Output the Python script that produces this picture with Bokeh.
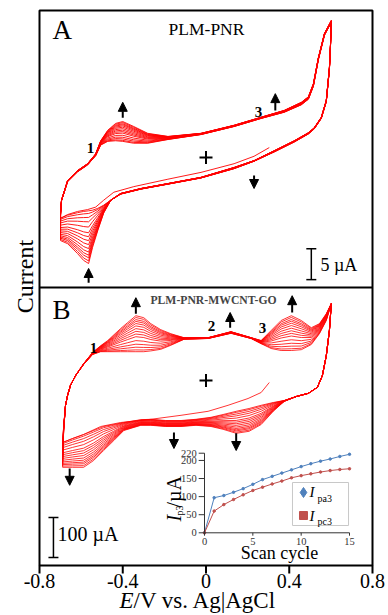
import math
from bokeh.plotting import figure
from bokeh.models import Range1d, Arrow, NormalHead
from bokeh.core.properties import value
from bokeh.embed import file_html
from bokeh.resources import INLINE

FONT = "Liberation Serif"

# ---------------- inset data: peak currents vs scan cycle ----------------
cycle = list(range(16))
ipa3 = [0, 97, 103, 112, 122, 134, 147, 156, 165, 174, 183, 191, 198, 204, 211, 217]
ipc3 = [0, 60, 78, 92, 105, 117, 126, 135, 143, 152, 158, 163, 168, 172, 175, 177]
inset_yticks = [0, 50, 100, 150, 200, 220]
inset_xticks = [0, 5, 10, 15]
x_ticks = [-0.8, -0.4, 0, 0.4, 0.8]
x_tick_labels = ["-0.8", "-0.4", "0", "0.4", "0.8"]

# ---------------- panel A (PLM-PNR), current in uA ----------------
A_E_up = [-0.699, -0.699, -0.694, -0.665, -0.617, -0.569, -0.530, -0.506, -0.472, -0.434,
          -0.400, -0.347, -0.280, -0.183, -0.024, 0.135, 0.265, 0.376, 0.458, 0.492,
          0.516, 0.540, 0.569, 0.602]
A_up_first = [-9.8, -8.6, -6.9, -3.9, -2.3, -1.2, 0.3, 2.0, 2.6, 2.7,
              2.6, 2.3, 2.3, 2.9, 3.7, 5.0, 6.3, 7.3, 8.5, 9.4,
              11.5, 15.8, 19.7, 21.8]
A_up_last = [-13.4, -9.4, -6.9, -3.7, -2.1, -1.0, 0.6, 2.7, 4.4, 5.5,
             5.8, 5.0, 3.9, 3.4, 3.9, 5.2, 6.5, 7.6, 8.9, 9.8,
             11.9, 16.1, 20.0, 22.1]
A_E_dn = [0.602, 0.598, 0.593, 0.578, 0.554, 0.520, 0.492, 0.424, 0.328, 0.231,
          0.135, -0.024, -0.183, -0.313, -0.410, -0.458, -0.492, -0.520, -0.545, -0.564,
          -0.588, -0.617, -0.665, -0.699]
A_dn_first = [21.8, 17.8, 14.2, 9.0, 6.3, 4.6, 3.8, 2.5, 0.9, -0.6,
              -1.8, -3.3, -4.3, -5.1, -5.9, -6.9, -7.7, -8.2, -8.5, -8.6,
              -8.7, -8.9, -9.3, -9.8]
A_dn_last = [22.1, 18.1, 14.5, 9.2, 6.5, 4.8, 4.0, 2.7, 1.1, -0.5,
             -1.6, -3.2, -4.2, -5.0, -5.8, -6.9, -9.0, -11.8, -14.5, -17.1,
             -16.6, -15.5, -13.9, -13.4]
A_E_start = [0.304, 0.231, 0.135, -0.024, -0.183, -0.347, -0.443, -0.492, -0.530, -0.569, -0.617, -0.665, -0.699]
A_I_start = [1.6, 0.2, -1.0, -2.4, -3.5, -4.7, -5.6, -6.9, -8.0, -8.4, -8.7, -9.2, -9.8]

# ---------------- panel B (PLM-PNR-MWCNT-GO), current in uA ----------------
B_E_up = [-0.689, -0.684, -0.675, -0.665, -0.651, -0.627, -0.588, -0.545, -0.506, -0.472,
          -0.410, -0.376, -0.337, -0.299, -0.265, -0.217, -0.169, -0.106, 0.010, 0.120,
          0.217, 0.265, 0.313, 0.361, 0.410, 0.458, 0.506, 0.545, 0.578, 0.602]
B_up_first = [-155, -115, -62, -37, -12, 12, 40, 65, 72, 72,
              72, 72, 72, 72, 74, 78, 88, 103, 105, 118,
              105, 92, 80, 75, 75, 77, 90, 117, 150, 192]
B_up_last = [-217, -125, -62, -37, -12, 12, 42, 70, 87, 100,
             130, 145, 162, 157, 142, 127, 117, 107, 107, 122,
             107, 100, 125, 150, 162, 150, 132, 142, 167, 192]
B_E_dn = [0.602, 0.593, 0.578, 0.559, 0.535, 0.492, 0.434, 0.376, 0.323, 0.265,
          0.207, 0.145, 0.082, 0.024, -0.048, -0.120, -0.193, -0.265, -0.313, -0.395,
          -0.443, -0.492, -0.540, -0.588, -0.641, -0.689]
B_dn_first = [192, 125, 62, 12, -17, -32, -40, -50, -55, -62,
              -70, -77, -85, -92, -97, -100, -100, -97, -98, -105,
              -110, -115, -125, -135, -145, -155]
B_dn_last = [192, 125, 62, 12, -17, -32, -40, -52, -77, -110,
             -127, -132, -122, -115, -112, -115, -115, -112, -112, -125,
             -150, -175, -200, -217, -217, -217]
B_E_start = [0.304, 0.265, 0.202, 0.106, 0.010, -0.120, -0.265, -0.410, -0.506, -0.588, -0.641, -0.689]
B_I_start = [-5, -30, -45, -62, -77, -87, -97, -105, -115, -135, -145, -155]

# arrows: (E, tail current, tip current)
A_arrows = [(-0.400, 6.4, 8.9), (0.333, 7.6, 10.3), (0.231, -2.9, -5.0), (-0.564, -20.2, -17.9)]
B_arrows = [(-0.337, 167, 207), (0.116, 132, 170), (0.414, 170, 212),
            (-0.154, -130, -170), (0.145, -132, -175), (-0.655, -220, -262)]

# ---------------- layout constants (page pixels) ----------------
W, H = 388, 615
FR_L, FR_R, FR_T, FR_B = 39, 372, 10, 565
SPLIT = 287
TICK_OUT = 8


def yrange(zero_px, px_per_unit):
    return Range1d((zero_px - H) / px_per_unit, zero_px / px_per_unit)


def xrange_(zero_px, px_per_unit):
    return Range1d(-zero_px / px_per_unit, (W - zero_px) / px_per_unit)


kx = (FR_R - FR_L) / (x_ticks[-1] - x_ticks[0])
p = figure(width=W, height=H, output_backend="svg", toolbar_location=None,
           x_range=Range1d(x_ticks[0] - FR_L / kx, x_ticks[-1] + (W - FR_R) / kx),
           y_range=Range1d(H, 0), x_axis_location=None, y_axis_location=None,
           min_border_left=0, min_border_right=0, min_border_top=0, min_border_bottom=0)
p.grid.visible = False
p.outline_line_color = None
p.background_fill_color = "white"
p.border_fill_color = "white"
p.extra_x_ranges = {"px": Range1d(0, W), "ix": xrange_(204, 9.667)}
p.extra_y_ranges = {"A": yrange(157, 6.2), "B": yrange(380, 0.4), "iy": yrange(532.3, 0.3618)}

# panel frames and the E axis ticks
p.quad(left=[FR_L], right=[FR_R], top=[FR_T], bottom=[FR_B], x_range_name="px",
       fill_color=None, line_color="black", line_width=2)
p.segment(x0=[FR_L], y0=[SPLIT], x1=[FR_R], y1=[SPLIT], x_range_name="px",
          line_color="black", line_width=2)
p.segment(x0=x_ticks, y0=[FR_B] * len(x_ticks), x1=x_ticks, y1=[FR_B + TICK_OUT] * len(x_ticks),
          line_color="black", line_width=2)
p.text(x=x_ticks, y=[580] * len(x_ticks), text=x_tick_labels, text_font=value(FONT),
       text_font_size="20px", text_align="center", text_baseline="middle", text_color="black")

# ---------------- CV cycles ----------------
weights = [(ipa3[c] - ipa3[1]) / (ipa3[15] - ipa3[1]) for c in range(1, 16)]


def build(E_up, up_first, up_last, E_dn, dn_first, dn_last):
    xs, ys = [], []
    for w in weights:
        up = [a + w * (b - a) for a, b in zip(up_first, up_last)]
        dn = [a + w * (b - a) for a, b in zip(dn_first, dn_last)]
        xs.append(list(E_up) + list(E_dn[1:]))
        ys.append(up + dn[1:])
    return xs, ys


axs, ays = build(A_E_up, A_up_first, A_up_last, A_E_dn, A_dn_first, A_dn_last)
p.multi_line(axs + [A_E_start], ays + [A_I_start], y_range_name="A",
             line_color="red", line_width=0.9, line_join="round")
bxs, bys = build(B_E_up, B_up_first, B_up_last, B_E_dn, B_dn_first, B_dn_last)
p.multi_line(bxs + [B_E_start], bys + [B_I_start], y_range_name="B",
             line_color="red", line_width=0.8, line_join="round")

# origin crosses
for rn in ("A", "B"):
    p.scatter(x=[0], y=[0], marker="cross", size=13, line_width=2, color="black", y_range_name=rn)

# arrows
for rn, arr in (("A", A_arrows), ("B", B_arrows)):
    for e, t0, t1 in arr:
        p.add_layout(Arrow(x_start=e, y_start=t0, x_end=e, y_end=t1, y_range_name=rn,
                           line_width=2, line_color="black",
                           end=NormalHead(size=9, fill_color="black", line_color="black")))

# scale bars
A_bar = (0.506, -14.7, -19.7)
B_bar = (-0.733, -342.5, -442.5)
for rn, (e, b0, b1) in (("A", A_bar), ("B", B_bar)):
    p.segment(x0=[e, e - 0.024, e - 0.024], y0=[b0, b0, b1], x1=[e, e + 0.024, e + 0.024], y1=[b1, b0, b1],
              line_color="black", line_width=1.5, y_range_name=rn)


def txt(x, y, s, size, align="left", style="normal", color="black", xr="px", yr="default",
        angle=0.0, baseline="middle"):
    p.text(x=[x], y=[y], text=[s], x_range_name=xr, y_range_name=yr, angle=angle,
           text_font=value(FONT), text_font_size=size, text_font_style=style,
           text_align=align, text_baseline=baseline, text_color=color)


txt(52, 29, "A", "27px")
txt(206, 28, "PLM-PNR", "17.5px", align="center")
txt(52, 309, "B", "27px")
txt(213, 300, "PLM-PNR-MWCNT-GO", "11.7px", align="center", style="bold", color="#444444")
txt(90, 147, "1", "15px", align="center", style="bold")
txt(258, 111, "3", "15px", align="center", style="bold")
txt(93, 347, "1", "15px", align="center", style="bold")
txt(211, 325, "2", "15px", align="center", style="bold")
txt(262, 327, "3", "15px", align="center", style="bold")
txt(320, 264, "5 \u00b5A", "18px")
txt(57, 533, "100 \u00b5A", "20px")

# axis titles
txt(24, 276, "Current", "24px", align="center", angle=math.pi / 2)
txt(119, 600, "E", "23px", style="italic")
txt(133, 600, "/V vs. Ag|AgCl", "23px")

# ---------------- inset ----------------
IX, IY = "ix", "iy"
p.line(cycle, ipa3, x_range_name=IX, y_range_name=IY, line_color="#4f81bd", line_width=1)
p.scatter(cycle, ipa3, x_range_name=IX, y_range_name=IY, size=2.5, color="#4f81bd")
p.line(cycle, ipc3, x_range_name=IX, y_range_name=IY, line_color="#c0504d", line_width=1)
p.scatter(cycle, ipc3, x_range_name=IX, y_range_name=IY, size=2.5, color="#c0504d")
p.segment(x0=[0, 0], y0=[0, 0], x1=[0, 15], y1=[220, 0], x_range_name=IX, y_range_name=IY,
          line_color="#333333", line_width=1)
p.segment(x0=[-0.6] * len(inset_yticks), y0=inset_yticks, x1=[0] * len(inset_yticks), y1=inset_yticks,
          x_range_name=IX, y_range_name=IY, line_color="#333333", line_width=1)
p.segment(x0=inset_xticks, y0=[0] * 4, x1=inset_xticks, y1=[-8] * 4,
          x_range_name=IX, y_range_name=IY, line_color="#333333", line_width=1)
p.text(x=[-0.8] * len(inset_yticks), y=inset_yticks, text=[str(v) for v in inset_yticks],
       x_range_name=IX, y_range_name=IY, text_font=value(FONT), text_font_size="10.5px",
       text_align="right", text_baseline="middle", text_color="#333333")
p.text(x=inset_xticks, y=[-24] * 4, text=[str(v) for v in inset_xticks],
       x_range_name=IX, y_range_name=IY, text_font=value(FONT), text_font_size="10.5px",
       text_align="center", text_baseline="middle", text_color="#333333")
txt(7.76, -57, "Scan cycle", "18px", align="center", xr=IX, yr=IY)
txt(-3.2, 31, "I", "20px", style="italic", xr=IX, yr=IY, angle=math.pi / 2)
txt(-2.6, 48, "p3", "10px", xr=IX, yr=IY, angle=math.pi / 2)
txt(-3.2, 70, "/\u00b5A", "20px", xr=IX, yr=IY, angle=math.pi / 2)
# legend
p.quad(left=[9.1], right=[14.9], bottom=[20.2], top=[139.0], x_range_name=IX, y_range_name=IY,
       fill_color="white", line_color="#c8c8c8", line_width=1)
p.scatter([10.24], [111.4], marker="diamond", size=10, color="#4f81bd", x_range_name=IX, y_range_name=IY)
p.scatter([10.24], [47.8], marker="square", size=8, color="#c0504d", x_range_name=IX, y_range_name=IY)
txt(10.86, 111.4, "I", "15px", style="italic", xr=IX, yr=IY)
txt(11.69, 94.8, "pa3", "10px", xr=IX, yr=IY)
txt(10.86, 47.8, "I", "15px", style="italic", xr=IX, yr=IY)
txt(11.69, 31.2, "pc3", "10px", xr=IX, yr=IY)

open("out.html", "w").write(file_html(p, INLINE))
